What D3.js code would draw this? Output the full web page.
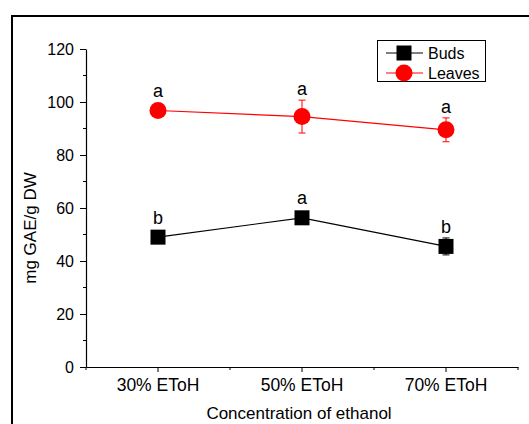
<!DOCTYPE html>
<html>
<head>
<meta charset="utf-8">
<script src="https://cdn.jsdelivr.net/npm/d3@7"></script>
<style>
  body { margin: 0; background: #fff; }
  svg { display: block; font-family: "Liberation Sans", Arial, sans-serif; }
</style>
</head>
<body>
<div id="chart"></div>
<script>
const categories = ["30% EToH", "50% EToH", "70% EToH"];
const budsValues = [49.0, 56.3, 45.5];
const budsErrors = [1.2, 1.5, 3.2];
const budsLetters = ["b", "a", "b"];
const leavesValues = [96.8, 94.5, 89.5];
const leavesErrors = [1.0, 6.2, 4.5];
const leavesLetters = ["a", "a", "a"];
const yTicks = [0, 20, 40, 60, 80, 100, 120];
const yMinorTicks = [10, 30, 50, 70, 90, 110];

const series = [
    { name: "Buds", values: budsValues, errors: budsErrors, letters: budsLetters, color: "#000", shape: "square" },
    { name: "Leaves", values: leavesValues, errors: leavesErrors, letters: leavesLetters, color: "#ff0000", shape: "circle" }
];

const W = 529, H = 424;
const plotLeft = 86, plotRight = 518, plotTop = 49, plotBottom = 367;

const svg = d3.select("#chart")
    .append("svg")
    .attr("width", W)
    .attr("height", H);

// outer frame (runs off the right and bottom edges)
svg.append("rect")
    .attr("x", 12).attr("y", 16)
    .attr("width", 540).attr("height", 430)
    .attr("fill", "none")
    .attr("stroke", "#000")
    .attr("stroke-width", 2);

const x = d3.scaleBand()
    .domain(categories)
    .range([plotLeft, plotRight]);

const y = d3.scaleLinear()
    .domain([0, 120])
    .range([plotBottom, plotTop]);

// x axis
const xAxis = svg.append("g")
    .attr("transform", "translate(0," + plotBottom + ")")
    .call(d3.axisBottom(x).tickSize(5).tickSizeOuter(0).tickPadding(7));
xAxis.select(".domain").attr("stroke-width", 1.2);
xAxis.selectAll("text").style("font-size", "17.5px").attr("fill", "#000");

// minor ticks at band edges
const edges = [0, 1, 2, 3].map(i => plotLeft + i * x.step());
svg.append("g")
    .selectAll("line")
    .data(edges)
    .enter()
    .append("line")
    .attr("x1", d => d).attr("x2", d => d)
    .attr("y1", plotBottom).attr("y2", plotBottom + 3)
    .attr("stroke", "#000");

// y axis
const yAxis = svg.append("g")
    .attr("transform", "translate(" + plotLeft + ",0)")
    .call(d3.axisLeft(y).tickValues(yTicks).tickSize(6).tickSizeOuter(0).tickPadding(6));
yAxis.select(".domain").attr("stroke-width", 1.2);
yAxis.selectAll("text").style("font-size", "16px").attr("fill", "#000");

svg.append("g")
    .selectAll("line")
    .data(yMinorTicks)
    .enter()
    .append("line")
    .attr("x1", plotLeft - 3).attr("x2", plotLeft)
    .attr("y1", d => y(d)).attr("y2", d => y(d))
    .attr("stroke", "#000");

// axis titles
svg.append("text")
    .attr("x", (plotLeft + plotRight) / 2 - 3)
    .attr("y", 419)
    .attr("text-anchor", "middle")
    .style("font-size", "17px")
    .text("Concentration of ethanol");

svg.append("text")
    .attr("transform", "translate(36," + 228 + ") rotate(-90)")
    .attr("text-anchor", "middle")
    .style("font-size", "17px")
    .text("mg GAE/g DW");

const cx = d => x(d) + x.bandwidth() / 2;

function drawMarker(g, shape, color, px, py) {
    if (shape === "square") {
        g.append("rect")
            .attr("x", px - 7.5).attr("y", py - 7.5)
            .attr("width", 15).attr("height", 15)
            .attr("fill", color);
    } else {
        g.append("circle")
            .attr("cx", px).attr("cy", py)
            .attr("r", 8.5)
            .attr("fill", color);
    }
}

series.forEach(s => {
    const g = svg.append("g");
    const line = d3.line()
        .x((d, i) => cx(categories[i]))
        .y(d => y(d));
    g.append("path")
        .attr("d", line(s.values))
        .attr("fill", "none")
        .attr("stroke", s.color)
        .attr("stroke-width", 1.2);

    s.values.forEach((v, i) => {
        const px = cx(categories[i]);
        const e = s.errors[i];
        g.append("line")
            .attr("x1", px).attr("x2", px)
            .attr("y1", y(v - e)).attr("y2", y(v + e))
            .attr("stroke", s.color);
        [v - e, v + e].forEach(c => {
            g.append("line")
                .attr("x1", px - 3.5).attr("x2", px + 3.5)
                .attr("y1", y(c)).attr("y2", y(c))
                .attr("stroke", s.color);
        });
        drawMarker(g, s.shape, s.color, px, y(v));

        const labelTop = Math.min(y(v + e), y(v) - 8.5);
        g.append("text")
            .attr("x", px)
            .attr("y", labelTop - 5)
            .attr("text-anchor", "middle")
            .style("font-size", "18px")
            .text(s.letters[i]);
    });
});

// legend
const legend = svg.append("g");
legend.append("rect")
    .attr("x", 377.5).attr("y", 40.5)
    .attr("width", 108).attr("height", 41)
    .attr("fill", "#fff")
    .attr("stroke", "#000");

series.forEach((s, i) => {
    const ly = 53 + i * 20;
    legend.append("line")
        .attr("x1", 386).attr("x2", 423)
        .attr("y1", ly).attr("y2", ly)
        .attr("stroke", s.color)
        .attr("stroke-width", 1.2);
    drawMarker(legend, s.shape, s.color, 404, ly);
    legend.append("text")
        .attr("x", 428)
        .attr("y", ly + 6)
        .style("font-size", "16px")
        .text(s.name);
});
</script>
</body>
</html>
